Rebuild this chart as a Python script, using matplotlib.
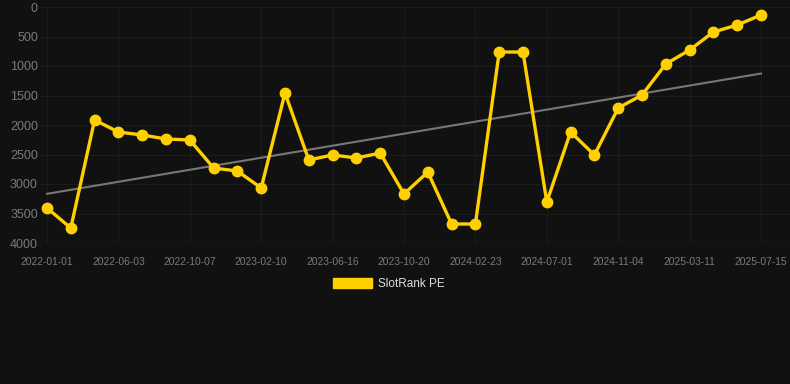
import numpy as np
import matplotlib
matplotlib.use('Agg')
import matplotlib.pyplot as plt
from matplotlib.patches import Patch

# SlotRank PE values, one per period (lower is better, so the axis is inverted)
rank = [3407, 3746, 1915, 2119, 2169, 2237, 2254, 2729, 2780, 3068,
        1458, 2593, 2508, 2559, 2475, 3169, 2797, 3678, 3678, 763,
        763, 3305, 2119, 2508, 1712, 1492, 966, 729, 424, 305, 136]
# labels shown on every third point
tick_labels = ['2022-01-01', '2022-06-03', '2022-10-07', '2023-02-10',
               '2023-06-16', '2023-10-20', '2024-02-23', '2024-07-01',
               '2024-11-04', '2025-03-11', '2025-07-15']
y_ticks = [0, 500, 1000, 1500, 2000, 2500, 3000, 3500, 4000]

bg = '#111111'
yellow = '#ffd000'

plt.rcParams['font.family'] = ['Liberation Sans', 'DejaVu Sans']

fig = plt.figure(figsize=(7.9, 3.84), dpi=100, facecolor=bg)
ax = fig.add_axes([40/790, 1-243/384, 750/790, 236/384], facecolor=bg)

x = np.arange(len(rank))

#Trend line: least squares fit over the series
k, b = np.polyfit(x, rank, 1)
ax.plot([x[0], x[-1]], [k*x[0]+b, k*x[-1]+b], color='#777777', lw=1.5, zorder=2)

ax.plot(x, rank, color=yellow, lw=2.4, marker='o', ms=7.5, zorder=3)

ax.set_xlim(-7/23.8, 30 + 29/23.8)
ax.set_ylim(4000, 0)
ax.set_yticks(y_ticks)
ax.set_yticklabels([str(v) for v in y_ticks])
ax.set_xticks(x[::3])
ax.set_xticklabels(tick_labels)

ax.grid(True, color='#1c1c1c', lw=0.8)
ax.axhline(4000, color='#2a2a2a', lw=1, zorder=1)
ax.set_axisbelow(True)
for s in ax.spines.values():
    s.set_visible(False)
ax.tick_params(axis='y', length=0, pad=1.5, labelsize=9, labelcolor='#7a7a7a')
ax.tick_params(axis='x', length=0, pad=10, labelsize=7.4, labelcolor='#7a7a7a')

fig.legend(handles=[Patch(color=yellow, label='SlotRank PE')],
           loc='center', bbox_to_anchor=(389/790, 1-284/384), frameon=False,
           handlelength=3.3, handleheight=1.0, handletextpad=0.45,
           fontsize=8.5, labelcolor='#dddddd')

fig.savefig('out.png', dpi=100, facecolor=bg)
